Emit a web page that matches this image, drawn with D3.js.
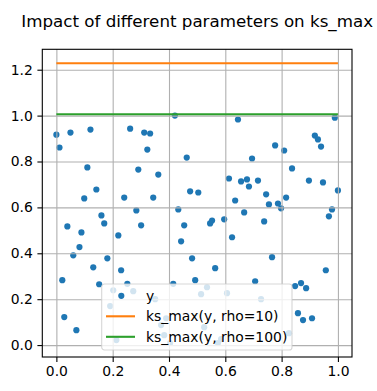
<!DOCTYPE html>
<html>
<head>
<meta charset="utf-8">
<script src="https://cdn.jsdelivr.net/npm/d3@7.9.0/dist/d3.min.js"></script>
<style>
  body { margin: 0; background: #fff; }
  svg { display: block; font-family: "DejaVu Sans", sans-serif; }
</style>
</head>
<body>
<svg id="chart" width="377" height="391"></svg>
<script>
// sample points
const xs = [0.000, 0.011, 0.021, 0.028, 0.039, 0.050, 0.060, 0.071, 0.082, 0.089,
  0.099, 0.110, 0.121, 0.131, 0.142, 0.152, 0.160, 0.170, 0.181, 0.191,
  0.202, 0.213, 0.220, 0.230, 0.241, 0.252, 0.262, 0.273, 0.284, 0.291,
  0.301, 0.312, 0.323, 0.333, 0.344, 0.351, 0.362, 0.372, 0.383, 0.390,
  0.404, 0.415, 0.421, 0.433, 0.443, 0.454, 0.463, 0.475, 0.482, 0.493,
  0.504, 0.514, 0.525, 0.535, 0.546, 0.553, 0.564, 0.574, 0.585, 0.596,
  0.606, 0.613, 0.624, 0.635, 0.645, 0.656, 0.667, 0.677, 0.684, 0.695,
  0.706, 0.716, 0.727, 0.738, 0.745, 0.755, 0.766, 0.777, 0.787, 0.798,
  0.809, 0.816, 0.826, 0.837, 0.848, 0.858, 0.869, 0.876, 0.887, 0.897,
  0.908, 0.918, 0.929, 0.940, 0.947, 0.957, 0.968, 0.979, 0.989, 1.000];
const ys = [0.917, 0.861, 0.283, 0.122, 0.517, 0.926, 0.391, 0.065, 0.427, 0.491,
  0.639, 0.774, 0.939, 0.339, 0.678, 0.265, 0.565, 0.530, 0.378, 0.170,
  0.239, 0.022, 0.478, 0.326, 0.643, 0.267, 0.943, 0.235, 0.587, 0.765,
  0.522, 0.926, 0.852, 0.922, 0.643, 0.200, 0.743, 0.087, 0.043, 0.117,
  0.009, 0.267, 1.000, 0.591, 0.452, 0.522, 0.817, 0.670, 0.378, 0.283,
  0.665, 0.222, 0.078, 0.252, 0.530, 0.543, 0.335, 0.009, 0.026, 0.548,
  0.226, 0.726, 0.470, 0.630, 0.983, 0.713, 0.578, 0.722, 0.691, 0.813,
  0.278, 0.717, 0.200, 0.539, 0.657, 0.613, 0.383, 0.870, 0.617, 0.596,
  0.848, 0.643, 0.052, 0.770, 0.257, 0.139, 0.270, 0.109, 0.248, 0.717,
  0.117, 0.913, 0.896, 0.865, 0.709, 0.326, 0.561, 0.591, 0.991, 0.674];

// ks_max levels
const lineLabels = ['ks_max(y, rho=10)', 'ks_max(y, rho=100)'];
const lineLevels = [1.228, 1.006];
const lineColors = ['#ff7f0e', '#2ca02c'];

const xTicks = [0, 0.2, 0.4, 0.6, 0.8, 1.0];
const yTicks = [0, 0.2, 0.4, 0.6, 0.8, 1.0, 1.2];

const svg = d3.select('#chart');
const mLeft = 42.3, mTop = 49.3, width = 309.7, height = 307.7;
const g = svg.append('g').attr('transform', `translate(${mLeft},${mTop})`);

// matplotlib style 5% margins
function padded(ext) {
  const d = ext[1] - ext[0];
  return [ext[0] - 0.05 * d, ext[1] + 0.05 * d];
}
const x = d3.scaleLinear().domain(padded(d3.extent(xs))).range([0, width]);
const y = d3.scaleLinear().domain(padded(d3.extent(ys.concat(lineLevels)))).range([height, 0]);

// points
g.append('g')
  .selectAll('circle')
  .data(xs)
  .join('circle')
  .attr('cx', d => x(d))
  .attr('cy', (d, i) => y(ys[i]))
  .attr('r', 3.1)
  .attr('fill', '#1f77b4');

// grid (drawn over the points, under the lines, like matplotlib)
const grid = g.append('g');
grid.append('g')
  .attr('transform', `translate(0,${height})`)
  .call(d3.axisBottom(x).tickValues(xTicks).tickSize(-height).tickFormat(''));
grid.append('g')
  .call(d3.axisLeft(y).tickValues(yTicks).tickSize(-width).tickFormat(''));
grid.selectAll('.domain').remove();
grid.selectAll('line').attr('stroke', '#b0b0b0').attr('stroke-width', 1.1);

// ks_max lines
lineLevels.forEach((v, i) => {
  const xe = d3.extent(xs);
  g.append('line')
    .attr('x1', x(xe[0])).attr('x2', x(xe[1]))
    .attr('y1', y(v)).attr('y2', y(v))
    .attr('stroke', lineColors[i])
    .attr('stroke-width', 2.1);
});

// axes
const fmt = d3.format('.1f');
const xAxis = g.append('g')
  .attr('transform', `translate(0,${height})`)
  .call(d3.axisBottom(x).tickValues(xTicks).tickFormat(fmt).tickSize(4.9).tickPadding(4.6));
const yAxis = g.append('g')
  .call(d3.axisLeft(y).tickValues(yTicks).tickFormat(fmt).tickSize(4.9).tickPadding(4.6));
[xAxis, yAxis].forEach(a => {
  a.selectAll('.domain').remove();
  a.selectAll('line').attr('stroke', '#000').attr('stroke-width', 1.1);
  a.selectAll('text').attr('fill', '#000').attr('font-size', '13.9px')
    .attr('font-family', '"DejaVu Sans", sans-serif');
});

// spines
g.append('rect')
  .attr('width', width).attr('height', height)
  .attr('fill', 'none').attr('stroke', '#000').attr('stroke-width', 1.1);

// title
svg.append('text')
  .attr('x', mLeft + width / 2)
  .attr('y', 27)
  .attr('text-anchor', 'middle')
  .attr('font-size', '16.7px')
  .text('Impact of different parameters on ks_max');

// legend
const leg = svg.append('g').attr('transform', 'translate(101.7,284)');
leg.append('rect')
  .attr('width', 190.3).attr('height', 66)
  .attr('rx', 2.8)
  .attr('fill', 'rgba(255,255,255,0.8)')
  .attr('stroke', 'rgba(204,204,204,0.8)')
  .attr('stroke-width', 1.1);
const rowY = [11.8, 32.3, 52.8];
leg.append('circle')
  .attr('cx', 19.6).attr('cy', rowY[0]).attr('r', 3.1)
  .attr('fill', '#1f77b4');
leg.append('text')
  .attr('x', 44.3).attr('y', rowY[0] + 5)
  .attr('font-size', '13.9px')
  .text('y');
lineLabels.forEach((lab, i) => {
  leg.append('line')
    .attr('x1', 4.3).attr('x2', 33.3)
    .attr('y1', rowY[i + 1]).attr('y2', rowY[i + 1])
    .attr('stroke', lineColors[i]).attr('stroke-width', 2.1);
  leg.append('text')
    .attr('x', 44.3).attr('y', rowY[i + 1] + 5)
    .attr('font-size', '13.9px')
    .text(lab);
});
</script>
</body>
</html>
